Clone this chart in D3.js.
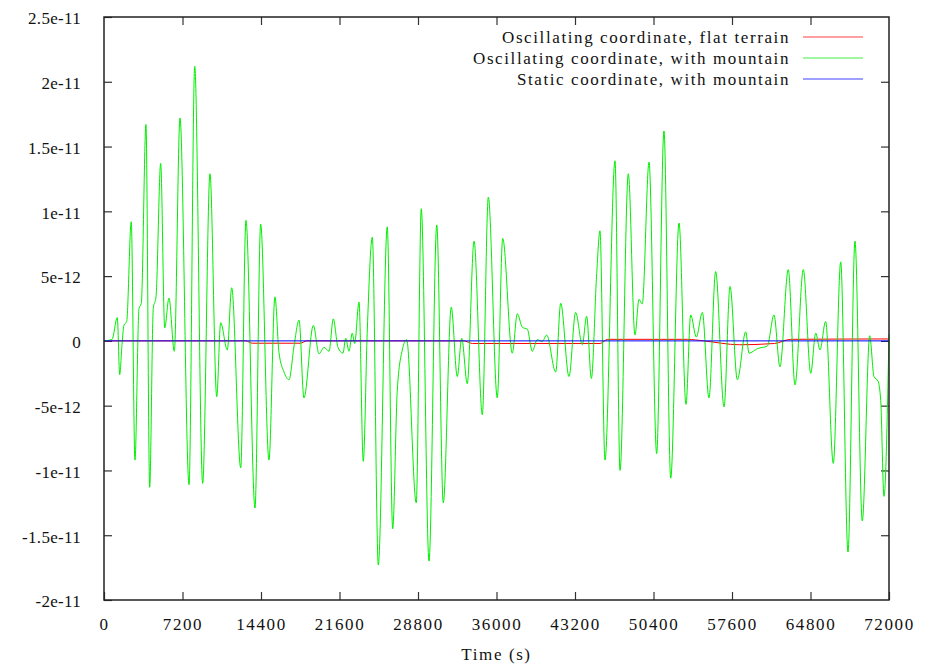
<!DOCTYPE html>
<html>
<head>
<meta charset="utf-8">
<script src="https://cdn.jsdelivr.net/npm/d3@7"></script>
<style>
  body { margin: 0; background: #fff; }
  svg text { font-family: "Liberation Serif", "Times New Roman", serif; font-size: 17px; fill: #111; letter-spacing: 1.6px; }
  svg .ylab text { letter-spacing: 0.3px; }
</style>
</head>
<body>
<div id="chart"></div>
<script>
// data, values in units of 1e-12
const timeGreen = [0, 730, 1220, 1440, 1650, 1830, 2080, 2500, 2840, 3210, 3420, 3850, 4190, 4520, 4770,
  5200, 5570, 5960, 6450, 6970, 7800, 8320, 9050, 9720, 10340, 10700, 11310, 11710, 12540, 13020,
  13850, 14370, 15130, 15680, 16050, 16510, 16970, 17430, 17890, 18340, 19200, 19720, 20180, 20640,
  21030, 21460, 21920, 22170, 22470, 22770, 22990, 23390, 23780, 24150, 24610, 25160, 25980, 26480,
  26900, 27360, 27760, 28640, 29100, 29810, 30520, 31120, 31850, 32400, 32810, 33320, 33940, 34700,
  35250, 36070, 36570, 37450, 37910, 38370, 38830, 39280, 39740, 40200, 40600, 41430, 41890, 42650,
  43260, 43870, 44270, 44700, 45190, 45490, 45950, 46870, 47330, 48090, 48700, 49070, 49370, 49990,
  50690, 51360, 51980, 52740, 53380, 53810, 54330, 54880, 55490, 56100, 56870, 57420, 58090, 58860,
  59160, 59920, 60840, 61450, 62000, 62760, 63380, 64140, 64820, 65280, 65670, 66190, 66890, 67570,
  68240, 68880, 69550, 70230, 70620, 70990, 71240, 71540, 72000];
const valGreen = [0, 0.1, 1.8, -2.6, -0.3, 1.2, 1.5, 9.2, -9.2, 2.5, 2.9, 16.7, -11.3, 2.5, 3.4,
  13.7, 1.0, 3.3, -0.8, 17.2, -11.1, 21.2, -11.0, 12.9, -4.3, 1.4, -0.7, 4.1, -9.8, 9.3,
  -12.9, 9.0, -9.2, 3.4, -0.9, -2.4, -3.0, -0.4, 1.6, -4.4, 1.2, -1.0, -0.5, -0.8,
  1.7, -0.5, -0.95, 0.2, -0.8, 0.6, -0.2, 3.0, -9.3, 0.85, 8.0, -17.3, 8.8, -14.5,
  -3.8, -0.7, 0.1, -12.5, 10.2, -17.0, 8.95, -12.5, 2.6, -2.75, 0.2, -3.3, 7.7, -5.7,
  11.1, -4.4, 7.9, -0.95, 2.1, 1.05, 0.9, -0.8, 0.1, -0.05, 0.45, -2.4, 2.9, -2.75,
  2.2, -0.3, 1.9, -2.9, 5.2, 8.5, -9.2, 13.9, -10.0, 12.9, 0.45, 3.2, 2.85, 13.8,
  -8.7, 16.2, -10.6, 9.1, -4.9, 2.0, 0.3, 2.2, -4.4, 5.35, -5.1, 4.2, -3.0, 0.7,
  -0.95, -0.6, -0.4, 2.0, -2.0, 5.5, -3.4, 5.5, -2.5, 0.6, -0.7, 1.5, -9.45, 6.1,
  -16.3, 7.7, -13.9, 0.4, -2.75, -3.1, -4.6, -12.0, 0.5];

const timeRed = [0, 13000, 13600, 18000, 18600, 33000, 33800, 45500, 46200, 53500, 55000, 58300, 61500, 63000, 72000];
const valRed = [0, 0, -0.18, -0.18, 0, 0, -0.2, -0.2, 0.12, 0.12, 0, -0.3, -0.2, 0.12, 0.15];

const timeBlue = [0, 36000, 72000];
const valBlue = [0, 0, 0];

const seriesNames = ["Oscillating coordinate, flat terrain", "Oscillating coordinate, with mountain", "Static coordinate, with mountain"];
const seriesColors = ["#ff0000", "#00ee00", "#0000ff"];

const xTicks = [0, 7200, 14400, 21600, 28800, 36000, 43200, 50400, 57600, 64800, 72000];
const yTicks = [-20, -15, -10, -5, 0, 5, 10, 15, 20, 25];
const yTickLabels = ["-2e-11", "-1.5e-11", "-1e-11", "-5e-12", "0", "5e-12", "1e-11", "1.5e-11", "2e-11", "2.5e-11"];

const width = 937, height = 666,
  margin = { top: 17, right: 48, bottom: 66, left: 104 },
  innerWidth = width - margin.left - margin.right,
  innerHeight = height - margin.top - margin.bottom;

const svg = d3.select('#chart').append('svg')
  .attr('width', width)
  .attr('height', height)
  .attr('font-family', '"Liberation Serif", serif');

const g = svg.append('g')
  .attr('transform', 'translate(' + margin.left + ',' + margin.top + ')');

const x = d3.scaleLinear().domain([0, 72000]).range([0, innerWidth]);
const y = d3.scaleLinear().domain([-20, 25]).range([innerHeight, 0]);

// ticks on all four sides, pointing inwards
const tickLen = 8;
const axisStyle = sel => {
  sel.attr('font-family', null).attr('font-size', null);
  sel.select('.domain').remove();
  sel.selectAll('line').attr('stroke', '#333').attr('stroke-width', 1.2);
};

g.append('g').attr('transform', 'translate(0,' + innerHeight + ')')
  .call(d3.axisBottom(x).tickValues(xTicks).tickSize(-tickLen).tickPadding(tickLen + 10).tickFormat(d3.format('d')))
  .call(axisStyle);

g.append('g')
  .call(d3.axisTop(x).tickValues(xTicks.slice(1, -1)).tickSize(-tickLen).tickFormat(''))
  .call(axisStyle);

g.append('g').attr('class', 'ylab')
  .call(d3.axisLeft(y).tickValues(yTicks).tickSize(-tickLen).tickPadding(tickLen + 15)
    .tickFormat((d, i) => yTickLabels[i]))
  .call(axisStyle)
  .call(s => s.selectAll('text').attr('dy', '0.4em'));

g.append('g').attr('transform', 'translate(' + innerWidth + ',0)')
  .call(d3.axisRight(y).tickValues(yTicks.slice(1, -1)).tickSize(-tickLen).tickFormat(''))
  .call(axisStyle);

// series
const line = d3.line()
  .x(d => x(d[0]))
  .y(d => y(d[1]))
  .curve(d3.curveMonotoneX);

const series = [
  d3.zip(timeRed, valRed),
  d3.zip(timeGreen, valGreen),
  d3.zip(timeBlue, valBlue)
];

series.forEach((s, i) => {
  g.append('path')
    .datum(s)
    .attr('fill', 'none')
    .attr('stroke', seriesColors[i])
    .attr('stroke-width', 1)
    .attr('d', line);
});

// border
g.append('rect')
  .attr('width', innerWidth)
  .attr('height', innerHeight)
  .attr('fill', 'none')
  .attr('stroke', '#222')
  .attr('stroke-width', 1.5);

// legend
const legend = g.append('g').attr('transform', 'translate(' + (innerWidth - 99) + ',20)');
seriesNames.forEach((name, i) => {
  const row = legend.append('g').attr('transform', 'translate(0,' + (i * 21) + ')');
  row.append('text')
    .attr('x', 0)
    .attr('dy', '0.35em')
    .attr('text-anchor', 'end')
    .text(name);
  row.append('line')
    .attr('x1', 13).attr('x2', 73)
    .attr('stroke', seriesColors[i])
    .attr('stroke-opacity', 0.5)
    .attr('stroke-width', 1.5);
});

// axis title
svg.append('text')
  .attr('x', margin.left + innerWidth / 2)
  .attr('y', 660)
  .attr('text-anchor', 'middle')
  .text('Time (s)');
</script>
</body>
</html>
